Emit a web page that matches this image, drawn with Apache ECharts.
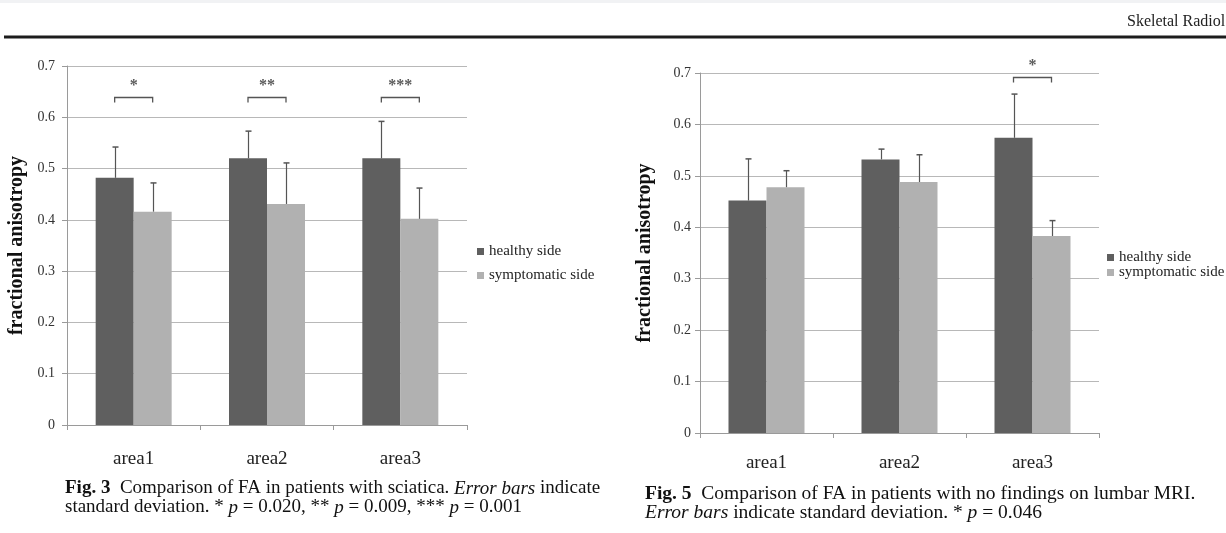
<!DOCTYPE html>
<html><head><meta charset="utf-8">
<script src="https://cdn.jsdelivr.net/npm/echarts@6/dist/echarts.min.js"></script>
<style>html,body{margin:0;padding:0;background:#fff}#c{width:1226px;height:533px}</style>
</head><body><div id="c"></div>
<script>
// ---------- data ----------
const categories = ['area1', 'area2', 'area3'];
const seriesNames = ['healthy side', 'symptomatic side'];
const axisTitle = 'fractional anisotropy';
const yMin = 0, yMax = 0.7, yStep = 0.1;

// Fig. 3 (sciatica)
const fig3Healthy = [0.482, 0.520, 0.520];
const fig3HealthySD = [0.060, 0.053, 0.072];
const fig3Symptomatic = [0.416, 0.431, 0.402];
const fig3SymptomaticSD = [0.056, 0.080, 0.060];
const fig3Brackets = [[0, 0.640, '*'], [1, 0.640, '**'], [2, 0.640, '***']];

// Fig. 5 (no findings on lumbar MRI)
const fig5Healthy = [0.452, 0.532, 0.574];
const fig5HealthySD = [0.081, 0.020, 0.085];
const fig5Symptomatic = [0.478, 0.488, 0.383];
const fig5SymptomaticSD = [0.032, 0.053, 0.030];
const fig5Brackets = [[2, 0.692, '*']];

// ---------- style ----------
const SERIF = '"Liberation Serif", "Times New Roman", serif';
const BAR_W = 38;
const DARK = '#5f5f5f', LIGHT = '#b1b1b1';
const GRID_C = '#b8b8b8', AXIS_C = '#9a9a9a', ERR_C = '#555555';

function errData(vals, sds) { return vals.map((v, i) => [i, v, sds[i]]); }

function errSeries(idx, vals, sds, off) {
  return {
    type: 'custom', xAxisIndex: idx, yAxisIndex: idx, z: 5, silent: true,
    data: errData(vals, sds),
    renderItem: function (params, api) {
      const c = api.coord([api.value(0), api.value(1)]);
      const t = api.coord([api.value(0), api.value(1) + api.value(2)]);
      const x = Math.round(c[0] + off) + 0.5;
      return {
        type: 'group', children: [
          { type: 'line', shape: { x1: x, y1: c[1], x2: x, y2: t[1] }, style: { stroke: ERR_C, lineWidth: 1.2 } },
          { type: 'line', shape: { x1: x - 3, y1: t[1], x2: x + 3, y2: t[1] }, style: { stroke: ERR_C, lineWidth: 1.5 } }
        ]
      };
    }
  };
}

function bracketSeries(idx, data) {
  return {
    type: 'custom', xAxisIndex: idx, yAxisIndex: idx, z: 6, silent: true, clip: false,
    data: data,
    renderItem: function (params, api) {
      const c = api.coord([api.value(0), api.value(1)]);
      const y = Math.round(c[1]) + 0.5;
      const xl = c[0] - BAR_W / 2, xr = c[0] + BAR_W / 2;
      return {
        type: 'group', children: [
          { type: 'polyline', shape: { points: [[xl, y + 5], [xl, y], [xr, y], [xr, y + 5]] },
            style: { stroke: ERR_C, lineWidth: 1.3, fill: null } },
          { type: 'text', x: c[0], y: y - 12,
            style: { text: data[params.dataIndex][2], fill: '#5a5a5a', font: 'bold 16px ' + SERIF,
                     textAlign: 'center', textVerticalAlign: 'middle' } }
        ]
      };
    }
  };
}

function xAxisCfg(idx, lblMargin) {
  return {
    type: 'category', gridIndex: idx, data: categories,
    axisLine: { lineStyle: { color: AXIS_C, width: 1 } },
    axisTick: { show: true, length: 5, lineStyle: { color: AXIS_C } },
    axisLabel: { fontFamily: SERIF, fontSize: 19, color: '#222', margin: lblMargin }
  };
}
function yAxisCfg(idx, gap, lblMargin) {
  return {
    type: 'value', gridIndex: idx, min: yMin, max: yMax, interval: yStep,
    name: axisTitle, nameLocation: 'middle', nameGap: gap,
    nameTextStyle: { fontFamily: SERIF, fontWeight: 'bold', fontSize: 20, color: '#111' },
    axisLine: { show: true, lineStyle: { color: AXIS_C } },
    axisTick: { show: true, length: 5, lineStyle: { color: AXIS_C } },
    splitLine: { lineStyle: { color: GRID_C, width: 1 } },
    axisLabel: { fontFamily: SERIF, fontSize: 14, color: '#333', margin: lblMargin,
                 formatter: v => (v === 0 ? '0' : v.toFixed(1)) }
  };
}
function barSeries(idx, name, vals, color) {
  return {
    type: 'bar', name: name, xAxisIndex: idx, yAxisIndex: idx, data: vals,
    barWidth: BAR_W, barGap: '0%', itemStyle: { color: color }, silent: true
  };
}

function capStyle(size) {
  return {
    fontFamily: SERIF, fontSize: size, fontWeight: 'normal', color: '#111', lineHeight: 19,
    rich: {
      b: { fontFamily: SERIF, fontSize: size, fontWeight: 'bold', color: '#111' },
      i: { fontFamily: SERIF, fontSize: size, fontStyle: 'italic', color: '#111' }
    }
  };
}

const legendText = { fontFamily: SERIF, fontSize: 15, color: '#222' };

const option = {
  animation: false,
  backgroundColor: '#ffffff',
  title: [
    { left: 60, top: 474, textStyle: capStyle(19),
      text: '{b|Fig. 3}  Comparison of FA in patients with sciatica. {i|Error bars} indicate\nstandard deviation. * {i|p} = 0.020, ** {i|p} = 0.009, *** {i|p} = 0.001' },
    { left: 640, top: 479, textStyle: capStyle(19.5),
      text: '{b|Fig. 5}  Comparison of FA in patients with no findings on lumbar MRI.\n{i|Error bars} indicate standard deviation. * {i|p} = 0.046' }
  ],
  grid: [
    { left: 67, right: 759, top: 66, bottom: 108 },
    { left: 700, right: 127, top: 73, bottom: 100 }
  ],
  legend: [
    { orient: 'vertical', left: 472, top: 239, icon: 'rect', itemWidth: 7, itemHeight: 7, itemGap: 9,
      textStyle: Object.assign({ lineHeight: 15 }, legendText), data: seriesNames, selectedMode: false },
    { orient: 'vertical', left: 1102, top: 245, icon: 'rect', itemWidth: 7, itemHeight: 7, itemGap: 0,
      textStyle: Object.assign({ lineHeight: 14 }, legendText), data: seriesNames, selectedMode: false }
  ],
  xAxis: [xAxisCfg(0, 25), xAxisCfg(1, 21)],
  yAxis: [yAxisCfg(0, 40, 12), yAxisCfg(1, 45, 9)],
  series: [
    barSeries(0, seriesNames[0], fig3Healthy, DARK),
    barSeries(0, seriesNames[1], fig3Symptomatic, LIGHT),
    errSeries(0, fig3Healthy, fig3HealthySD, -BAR_W / 2),
    errSeries(0, fig3Symptomatic, fig3SymptomaticSD, BAR_W / 2),
    bracketSeries(0, fig3Brackets),
    barSeries(1, seriesNames[0], fig5Healthy, DARK),
    barSeries(1, seriesNames[1], fig5Symptomatic, LIGHT),
    errSeries(1, fig5Healthy, fig5HealthySD, -BAR_W / 2),
    errSeries(1, fig5Symptomatic, fig5SymptomaticSD, BAR_W / 2),
    bracketSeries(1, fig5Brackets)
  ],
  graphic: [
    { type: 'rect', left: 0, top: 0, shape: { width: 1226, height: 3 }, style: { fill: '#f1f2f4' }, silent: true },
    { type: 'line', shape: { x1: 4, y1: 37, x2: 1226, y2: 37 }, style: { stroke: '#1c1c1c', lineWidth: 3 }, silent: true },
    { type: 'text', x: 1127, y: 22, silent: true,
      style: { text: 'Skeletal Radiol', font: '16px ' + SERIF, fill: '#222', textVerticalAlign: 'middle' } }
  ]
};

const chart = echarts.init(document.getElementById('c'), null, { renderer: 'canvas' });
chart.setOption(option);
</script>
</body></html>
